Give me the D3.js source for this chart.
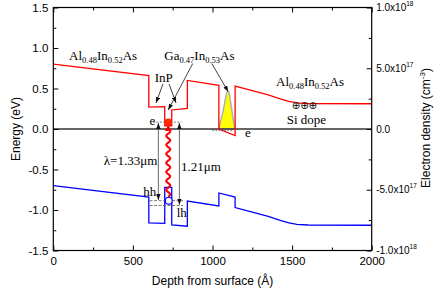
<!DOCTYPE html>
<html><head><meta charset="utf-8">
<script src="https://cdn.jsdelivr.net/npm/d3@7"></script>
<style>body{margin:0;background:#fff}</style>
</head><body>
<svg id="c" width="442" height="292"></svg>
<script>
// ---- data ----
const cbDepth  = [0,600,600,700,700,744,744,842,842,1040,1040,1142,1142,1250,1350,1430,1480,1530,1600,2000];
const cbEnergy = [0.80,0.66,0.27,0.275,0.04,0.04,0.235,0.255,0.60,0.54,0.00,-0.08,0.53,0.475,0.42,0.37,0.34,0.322,0.315,0.312];
const vbDepth  = [0,600,600,700,700,744,744,842,842,1040,1040,1142,1142,1250,1350,1430,1480,1530,1600,2000];
const vbEnergy = [-0.70,-0.84,-1.16,-1.165,-0.72,-0.72,-1.185,-1.20,-0.89,-0.95,-0.79,-0.84,-0.97,-1.025,-1.08,-1.13,-1.16,-1.178,-1.185,-1.188];
const nDepth   = [1040,1050,1060,1070,1080,1090,1098,1105,1115,1125,1135,1142];
const nDensity = [0,0.6e17,1.1e17,1.7e17,2.4e17,3.0e17,3.1e17,2.9e17,2.1e17,1.2e17,0.4e17,0];
const xTicks = [0,500,1000,1500,2000];
const xMinor = [250,750,1250,1750];
const yTicks = [-1.5,-1.0,-0.5,0.0,0.5,1.0,1.5];
const yMinor = [-1.25,-0.75,-0.25,0.25,0.75,1.25];
const rTicks = [-1e18,-5e17,0,5e17,1e18];
const rMinor = [-7.5e17,-2.5e17,2.5e17,7.5e17];
const rTickLabels = [["-1.0x10","18"],["-5.0x10","17"],["0.0",""],["5.0x10","17"],["1.0x10","18"]];

// ---- scales ----
const L=53.3,R=371.7,T=7.5,B=250.5;
const x = d3.scaleLinear().domain([0,2000]).range([L,R]);
const y = d3.scaleLinear().domain([-1.5,1.5]).range([B,T]);
const yR = d3.scaleLinear().domain([-1e18,1e18]).range([B,T]);
const svg = d3.select("#c");
const SANS = "Liberation Sans, Arial, sans-serif";
const SERIF = "Liberation Serif, Times New Roman, serif";

const defs = svg.append("defs");
defs.append("marker").attr("id","ah").attr("viewBox","0 0 8 6").attr("refX",8).attr("refY",3)
  .attr("markerWidth",6).attr("markerHeight",4.5).attr("markerUnits","userSpaceOnUse").attr("orient","auto-start-reverse")
  .append("path").attr("d","M0,0L8,3L0,6z").attr("fill","#111");

// density (yellow)
svg.append("path").datum(d3.zip(nDepth,nDensity))
  .attr("d", d3.area().x(d=>x(d[0])).y0(yR(0)).y1(d=>yR(d[1])).curve(d3.curveMonotoneX))
  .attr("fill","#ffff00").attr("stroke","#b0b0b0").attr("stroke-width",1.5);

// zero line
svg.append("line").attr("x1",L).attr("x2",R).attr("y1",y(0)).attr("y2",y(0)).attr("stroke","#333").attr("stroke-width",1.3);

// bands
const line = d3.line().x(d=>x(d[0])).y(d=>y(d[1]));
svg.append("path").datum(d3.zip(cbDepth,cbEnergy)).attr("d",line).attr("fill","none").attr("stroke","#ff0000").attr("stroke-width",1.3);
svg.append("path").datum(d3.zip(vbDepth,vbEnergy)).attr("d",line).attr("fill","none").attr("stroke","#0000ff").attr("stroke-width",1.3);

// ---- axes ----
function style(g){ g.select(".domain").remove(); g.selectAll("line").attr("stroke","#000"); g.selectAll("text").attr("font-family",SANS).attr("fill","#000"); }
svg.append("g").attr("transform",`translate(${L},0)`).call(d3.axisLeft(y).tickValues(yTicks).tickSize(-5).tickPadding(5).tickFormat(d=>d.toFixed(1))).call(style).selectAll("text").attr("font-size",11.5);
svg.append("g").attr("transform",`translate(${L},0)`).call(d3.axisLeft(y).tickValues(yMinor).tickSize(-3).tickFormat("")).call(style);
svg.append("g").attr("transform",`translate(0,${B})`).call(d3.axisBottom(x).tickValues(xTicks).tickSize(-5).tickPadding(6).tickFormat(d=>d)).call(style).selectAll("text").attr("font-size",11.5);
svg.append("g").attr("transform",`translate(0,${B})`).call(d3.axisBottom(x).tickValues(xMinor).tickSize(-3).tickFormat("")).call(style);
svg.append("g").attr("transform",`translate(0,${T})`).call(d3.axisTop(x).tickValues(xTicks).tickSize(-5).tickFormat("")).call(style);
svg.append("g").attr("transform",`translate(0,${T})`).call(d3.axisTop(x).tickValues(xMinor).tickSize(-3).tickFormat("")).call(style);
const gr = svg.append("g").attr("transform",`translate(${R},0)`).call(d3.axisRight(yR).tickValues(rTicks).tickSize(-5).tickPadding(4).tickFormat("")).call(style);
svg.append("g").attr("transform",`translate(${R},0)`).call(d3.axisRight(yR).tickValues(rMinor).tickSize(-3).tickFormat("")).call(style);
rTicks.forEach((v,i)=>{
  const t = svg.append("text").attr("x",R+4.5).attr("y",yR(v)+3.5).attr("font-family",SANS).attr("font-size",10).attr("fill","#000");
  t.append("tspan").text(rTickLabels[i][0]);
  if (rTickLabels[i][1]) t.append("tspan").attr("dy",-5).attr("font-size",6.5).text(rTickLabels[i][1]);
});
svg.append("rect").attr("x",L).attr("y",T).attr("width",R-L).attr("height",B-T).attr("fill","none").attr("stroke","#000").attr("stroke-width",1.2);

// axis titles
svg.append("text").attr("transform",`translate(20,${y(0)}) rotate(-90)`).attr("text-anchor","middle").attr("font-family",SANS).attr("font-size",12).text("Energy (eV)");
svg.append("text").attr("x",(L+R)/2).attr("y",285).attr("text-anchor","middle").attr("font-family",SANS).attr("font-size",12).text("Depth from surface (Å)");
const rt = svg.append("text").attr("transform",`translate(430,128) rotate(-90)`).attr("text-anchor","middle").attr("font-family",SANS).attr("font-size",12);
rt.append("tspan").text("Electron density (cm");
rt.append("tspan").attr("dy",-5).attr("font-size",8).text("-3");
rt.append("tspan").attr("dy",5).text(")");

// ---- annotations ----
const P = (d,e)=>[x(d),y(e)];
function arrow(a,b,both,color){
  svg.append("line").attr("x1",a[0]).attr("y1",a[1]).attr("x2",b[0]).attr("y2",b[1])
    .attr("stroke",color||"#111").attr("stroke-width",0.8).attr("marker-end","url(#ah)")
    .attr("marker-start",both?"url(#ah)":null);
}
function dash(d1,d2,e,da){
  svg.append("line").attr("x1",x(d1)).attr("x2",x(d2)).attr("y1",y(e)).attr("y2",y(e))
    .attr("stroke","#555").attr("stroke-width",0.8).attr("stroke-dasharray",da||"2,1.5");
}
dash(625,805,0.085);
dash(605,815,-0.885,"3,1.5");
dash(605,815,-0.945,"3,1.5");
dash(1000,1125,-0.02,"1.5,1.5");

arrow(P(689,0.556),P(645,0.321));
arrow(P(727,0.556),P(771,0.321));
arrow(P(876,0.809),P(722,0.235));
arrow(P(995,0.809),P(1099,0.46));
arrow(P(660,0.075),P(660,-0.875),true,"#444");
arrow(P(792,0.075),P(792,-0.935),true,"#444");

// photon wave
(function(){
  const cx = x(722), y0 = y(0.085)+7, y1 = y(-0.885)-4;
  const pts=[];
  for(let yy=y0; yy<=y1; yy+=0.5){ pts.push([cx+2*Math.sin((yy-y0)/9*2*Math.PI), yy]); }
  svg.append("path").attr("d",d3.line()(pts)).attr("fill","none").attr("stroke","#ff0000").attr("stroke-width",2);
  svg.append("path").attr("d",`M${cx-3.5},${y0+2}L${cx},${y0-4}L${cx+3.5},${y0+2}z`).attr("fill","#ff0000");
})();
svg.append("circle").attr("cx",x(722)).attr("cy",y(0.085)).attr("r",3.6).attr("fill","#ff2a00");
svg.append("circle").attr("cx",x(725)).attr("cy",y(-0.885)).attr("r",3.4).attr("fill","#fff").attr("stroke","#0000ff").attr("stroke-width",1.1);

// labels
function label(d,e,parts,anchor,size){
  const p=P(d,e);
  const t=svg.append("text").attr("x",p[0]).attr("y",p[1]).attr("font-family",SERIF).attr("font-size",size||13).attr("fill","#000").attr("text-anchor",anchor||"start");
  let sub=false;
  parts.forEach(pt=>{
    if (typeof pt==="string"){ t.append("tspan").attr("dy",sub?-3:0).text(pt); sub=false; }
    else { t.append("tspan").attr("dy",sub?0:3).attr("font-size",8.5).text(pt.s); sub=true; }
  });
}
label(99,0.858,["Al",{s:"0.48"},"In",{s:"0.52"},"As"]);
label(697,0.852,["Ga",{s:"0.47"},"In",{s:"0.53"},"As"]);
label(637,0.584,["InP"]);
label(1399,0.527,["Al",{s:"0.48"},"In",{s:"0.52"},"As"]);
svg.append("text").attr("x",x(1498)).attr("y",y(0.245)).attr("font-family","DejaVu Sans").attr("font-size",10).text("⊕⊕⊕");
label(1466,0.062,["Si dope"]);
label(604,0.049,["e"]);
label(1204,-0.093,["e"]);
label(653,-0.444,["λ=1.33μm"],"end");
label(802,-0.515,["1.21μm"]);
label(565,-0.827,["hh"]);
label(775,-1.086,["lh"]);
</script>
</body></html>
